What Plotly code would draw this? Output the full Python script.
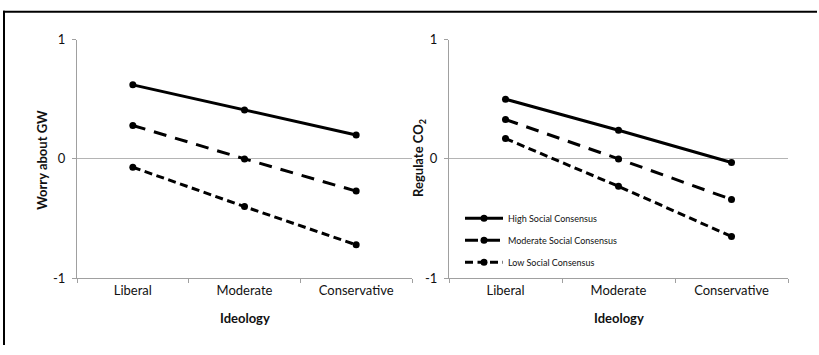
import plotly.graph_objects as go
from plotly.subplots import make_subplots

ideology = ["Liberal", "Moderate", "Conservative"]
series_names = ["High Social Consensus", "Moderate Social Consensus", "Low Social Consensus"]

worry_high = [0.62, 0.41, 0.20]
worry_moderate = [0.28, 0.00, -0.27]
worry_low = [-0.07, -0.40, -0.72]

regulate_high = [0.50, 0.24, -0.03]
regulate_moderate = [0.33, 0.00, -0.34]
regulate_low = [0.17, -0.23, -0.65]

y_ticks = [-1, 0, 1]
y_tick_text = ["-1", "0", "1"]

W, H = 819, 355
FONT = "Lato"
dashes = ["solid", "13px,9px", "8px,4.5px"]

fig = make_subplots(rows=1, cols=2)

left_sets = [worry_high, worry_moderate, worry_low]
right_sets = [regulate_high, regulate_moderate, regulate_low]

for i, (name, ys) in enumerate(zip(series_names, left_sets)):
    fig.add_trace(go.Scatter(
        x=ideology, y=ys, mode="lines+markers", name=name,
        line=dict(color="black", width=3, dash=dashes[i]),
        marker=dict(color="black", size=7),
        showlegend=False, legendgroup=f"g{i}"), row=1, col=1)

for i, (name, ys) in enumerate(zip(series_names, right_sets)):
    fig.add_trace(go.Scatter(
        x=ideology, y=ys, mode="lines+markers", name=name,
        line=dict(color="black", width=3, dash=dashes[i]),
        marker=dict(color="black", size=7),
        showlegend=True, legendgroup=f"g{i}"), row=1, col=2)

def px_x(p):
    return p / W

def px_y(p):
    return 1 - p / H

ydom = [px_y(283), px_y(33)]

axis_common = dict(
    showline=True, linecolor="#a0a0a0", linewidth=1.2,
    ticks="outside", ticklen=4, tickcolor="#a0a0a0", tickwidth=1,
    tickfont=dict(family=FONT, size=13, color="#111111"),
    zeroline=False,
)

fig.update_xaxes(
    **axis_common, type="category", tickson="boundaries",
    range=[-0.5, 2.5], showgrid=False,
)
fig.update_yaxes(
    **axis_common, range=[-1, 1], tickvals=y_ticks, ticktext=y_tick_text,
    showgrid=True, gridcolor="#b4b4b4", gridwidth=1, ticklabelstandoff=4,
)
fig.update_layout(
    xaxis=dict(domain=[px_x(77), px_x(412)]),
    xaxis2=dict(domain=[px_x(449), px_x(788)]),
    yaxis=dict(domain=ydom),
    yaxis2=dict(domain=ydom),
)

fig.update_layout(
    width=W, height=H,
    margin=dict(l=0, r=0, t=0, b=0),
    paper_bgcolor="white", plot_bgcolor="white",
    font=dict(family=FONT, color="#111111"),
    legend=dict(
        x=px_x(460), y=px_y(205), xanchor="left", yanchor="top",
        font=dict(family=FONT, size=9, color="#111111"),
        bgcolor="rgba(0,0,0,0)", tracegroupgap=3, itemwidth=38,
    ),
    showlegend=True,
)

annots = [
    dict(text="<b>Ideology</b>", x=px_x(245), y=px_y(325)),
    dict(text="<b>Ideology</b>", x=px_x(619), y=px_y(325)),
    dict(text="<b>Worry about GW</b>", x=px_x(42), y=px_y(159), textangle=-90),
    dict(text="<b>Regulate CO<sub>2</sub></b>", x=px_x(419), y=px_y(157), textangle=-90),
]
for a in annots:
    fig.add_annotation(xref="paper", yref="paper", showarrow=False,
                       xanchor="center", yanchor="middle",
                       font=dict(family=FONT, size=13, color="#111111"), **a)

# outer frame: only its top and left edges show in the picture
fig.add_shape(type="line", xref="paper", yref="paper",
              x0=px_x(3), x1=px_x(W - 2), y0=px_y(4), y1=px_y(4),
              line=dict(color="black", width=2))
fig.add_shape(type="line", xref="paper", yref="paper",
              x0=px_x(4), x1=px_x(4), y0=px_y(H - 2), y1=px_y(3),
              line=dict(color="black", width=2))

fig.write_html("out.html")
